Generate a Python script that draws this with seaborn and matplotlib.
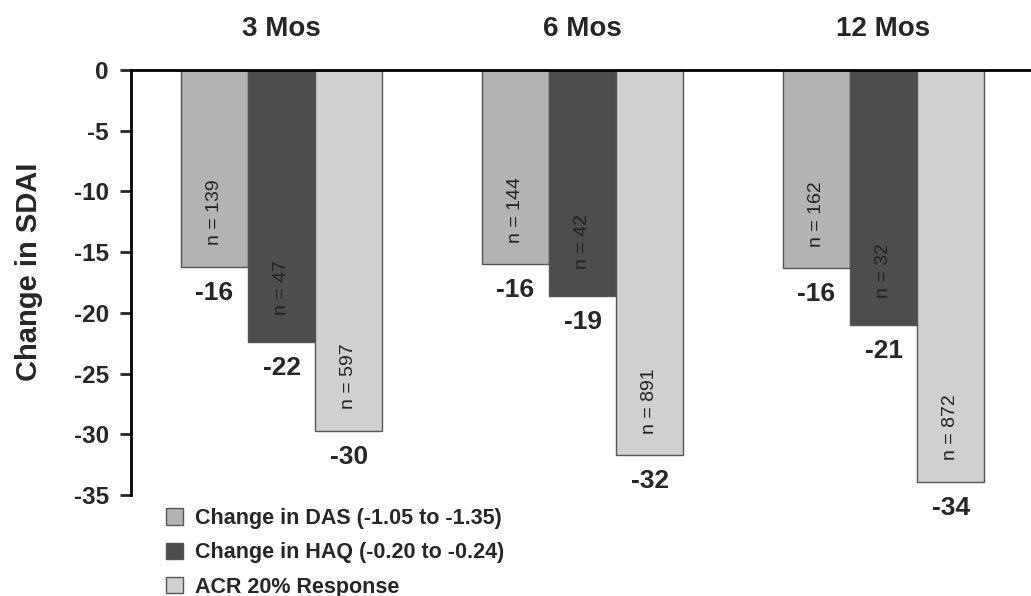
import matplotlib
matplotlib.use("Agg")
import matplotlib.pyplot as plt
import seaborn as sns
import pandas as pd

periods = ["3 Mos", "6 Mos", "12 Mos"]
measures = ["Change in DAS (-1.05 to -1.35)",
            "Change in HAQ (-0.20 to -0.24)",
            "ACR 20% Response"]
das_values = [-16.2, -16.0, -16.3]
haq_values = [-22.4, -18.6, -21.0]
acr_values = [-29.7, -31.7, -33.9]
das_labels = ["-16", "-16", "-16"]
haq_labels = ["-22", "-19", "-21"]
acr_labels = ["-30", "-32", "-34"]
das_n = ["n = 139", "n = 144", "n = 162"]
haq_n = ["n = 47", "n = 42", "n = 32"]
acr_n = ["n = 597", "n = 891", "n = 872"]
colors = ["#b3b3b3", "#4d4d4d", "#d0d0d0"]
yticks = [0, -5, -10, -15, -20, -25, -30, -35]

sns.set_theme(style="white")
plt.rcParams["font.family"] = ["Liberation Sans", "DejaVu Sans"]

rows = []
for m, vals in zip(measures, [das_values, haq_values, acr_values]):
    for p, v in zip(periods, vals):
        rows.append({"period": p, "measure": m, "value": v})
df = pd.DataFrame(rows)

fig = plt.figure(figsize=(10.31, 5.96), dpi=100)
ax = fig.add_axes([131 / 1031, 1 - 495 / 596, 1 - 131 / 1031, (495 - 70) / 596])

sns.barplot(data=df, x="period", y="value", hue="measure", order=periods,
            hue_order=measures, palette=colors, width=0.67, edgecolor="#555555",
            linewidth=1.0, saturation=1, ax=ax, legend=True, errorbar=None)

ax.set_ylim(-35, 0)
ax.set_xlim(-0.5, 2.49)
ax.set_yticks(yticks)
ax.set_yticklabels([str(t) for t in yticks], fontsize=17.5, fontweight="bold")
ax.set_ylabel("Change in SDAI", fontsize=21, fontweight="bold")
ax.yaxis.set_label_coords(-0.098, 0.525)
ax.set_xlabel("")
ax.xaxis.tick_top()
ax.set_xticks(range(len(periods)))
ax.set_xticklabels(periods, fontsize=20, fontweight="bold")
ax.tick_params(axis="x", length=0, pad=20)
ax.tick_params(axis="y", direction="out", length=8, width=2, pad=8, left=True)

for s in ["bottom", "right"]:
    ax.spines[s].set_visible(False)
ax.spines["left"].set_linewidth(2)
ax.spines["top"].set_linewidth(2)
ax.spines["left"].set_color("black")
ax.spines["top"].set_color("black")

all_labels = [das_labels, haq_labels, acr_labels]
all_n = [das_n, haq_n, acr_n]
for cont, labs, ns in zip(ax.containers, all_labels, all_n):
    ax.bar_label(cont, labels=labs, padding=10, fontsize=19, fontweight="bold",
                 clip_on=False)
    for patch, nt in zip(cont.patches, ns):
        xc = patch.get_x() + patch.get_width() / 2
        yb = min(patch.get_y(), patch.get_y() + patch.get_height())
        ax.annotate(nt, xy=(xc, yb), xytext=(0, 39), textcoords="offset points",
                    rotation=90, ha="center", va="center", fontsize=14,
                    color="#222222")

handles, labels = ax.get_legend_handles_labels()
ax.legend_.remove()
fig.legend(handles, labels, loc="upper left",
           bbox_to_anchor=(166 / 1031, 1 - 508 / 596),
           bbox_transform=fig.transFigure, frameon=False, borderpad=0,
           borderaxespad=0, handlelength=0.77, handleheight=0.77,
           handletextpad=0.57, labelspacing=0.62,
           prop={"size": 15.5, "weight": "bold"})

fig.savefig("out.png", dpi=100)
